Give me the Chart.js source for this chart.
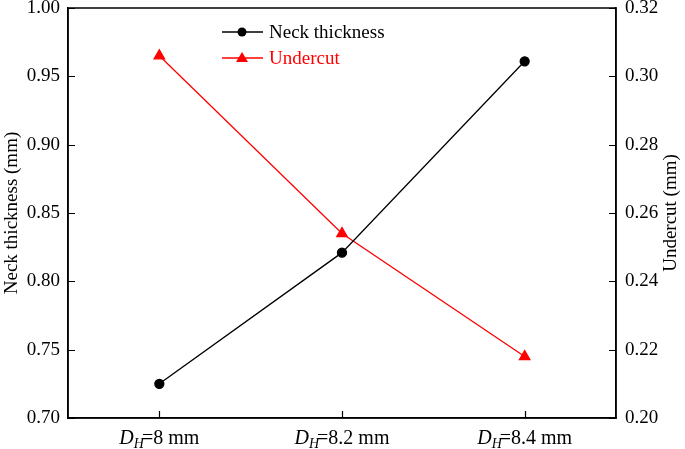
<!DOCTYPE html>
<html>
<head>
<meta charset="utf-8">
<script src="https://cdn.jsdelivr.net/npm/chart.js@4/dist/chart.umd.min.js"></script>
<style>
  html, body { margin: 0; padding: 0; background: #fff; }
  #wrap { width: 685px; height: 449px; }
</style>
</head>
<body>
<div id="wrap"><canvas id="chart" width="685" height="449"></canvas></div>
<script>
const categories = ['8', '8.2', '8.4'];
const neckThickness = [0.725, 0.821, 0.961];
const undercut = [0.306, 0.254, 0.218];
const leftTicks = [0.70, 0.75, 0.80, 0.85, 0.90, 0.95, 1.00];
const rightTicks = [0.20, 0.22, 0.24, 0.26, 0.28, 0.30, 0.32];

const FONT = '"Liberation Serif", "Times New Roman", serif';

// frame, inward tick marks, D_H labels, axis titles and the legend
const extras = {
    id: 'extras',
    afterDraw(chart) {
        const ctx = chart.ctx;
        const area = chart.chartArea;
        const x = chart.scales.x, y = chart.scales.y, y1 = chart.scales.y1;
        ctx.save();
        ctx.strokeStyle = '#000';
        ctx.lineWidth = 1.5;
        ctx.strokeRect(area.left, area.top, area.right - area.left, area.bottom - area.top);

        ctx.lineWidth = 1.2;
        ctx.beginPath();
        leftTicks.forEach(v => {
            const py = Math.round(y.getPixelForValue(v)) + 0.5;
            ctx.moveTo(area.left, py); ctx.lineTo(area.left + 7, py);
        });
        rightTicks.forEach(v => {
            const py = Math.round(y1.getPixelForValue(v)) + 0.5;
            ctx.moveTo(area.right, py); ctx.lineTo(area.right - 7, py);
        });
        categories.forEach((c, i) => {
            const px = Math.round(x.getPixelForValue(i)) + 0.5;
            ctx.moveTo(px, area.bottom); ctx.lineTo(px, area.bottom - 7);
        });
        ctx.stroke();

        // x labels: italic D with italic subscript H
        ctx.fillStyle = '#000';
        ctx.textBaseline = 'alphabetic';
        ctx.textAlign = 'left';
        categories.forEach((c, i) => {
            const px = x.getPixelForValue(i);
            const base = area.bottom + 26;
            const rest = '=' + c + ' mm';
            ctx.font = 'italic 20px ' + FONT;
            const wD = ctx.measureText('D').width;
            ctx.font = 'italic 14px ' + FONT;
            const wH = ctx.measureText('H').width;
            ctx.font = '20px ' + FONT;
            const wR = ctx.measureText(rest).width;
            let sx = px - (wD + wH - 2 + wR) / 2;
            ctx.font = 'italic 20px ' + FONT;
            ctx.fillText('D', sx, base);
            sx += wD;
            ctx.font = 'italic 14px ' + FONT;
            ctx.fillText('H', sx, base + 4);
            sx += wH - 2;
            ctx.font = '20px ' + FONT;
            ctx.fillText(rest, sx, base);
        });

        // axis titles, both reading bottom to top
        const midY = (area.top + area.bottom) / 2;
        [[12, 'Neck thickness (mm)'], [671, 'Undercut (mm)']].forEach(([tx, text]) => {
            ctx.save();
            ctx.translate(tx, midY);
            ctx.rotate(-Math.PI / 2);
            ctx.font = '19px ' + FONT;
            ctx.textAlign = 'center';
            ctx.textBaseline = 'middle';
            ctx.fillText(text, 0, 0);
            ctx.restore();
        });

        // legend
        const items = [
            { text: 'Neck thickness', color: '#000', style: 'circle', y: 32 },
            { text: 'Undercut', color: '#ff0000', style: 'triangle', y: 58 }
        ];
        items.forEach(it => {
            ctx.strokeStyle = it.color;
            ctx.fillStyle = it.color;
            ctx.lineWidth = 1.3;
            ctx.beginPath();
            ctx.moveTo(222, it.y); ctx.lineTo(263, it.y);
            ctx.stroke();
            ctx.beginPath();
            if (it.style === 'circle') {
                ctx.arc(242, it.y, 4.5, 0, Math.PI * 2);
            } else {
                ctx.moveTo(242, it.y - 6);
                ctx.lineTo(248, it.y + 4);
                ctx.lineTo(236, it.y + 4);
                ctx.closePath();
            }
            ctx.fill();
            ctx.font = '19px ' + FONT;
            ctx.textAlign = 'left';
            ctx.textBaseline = 'middle';
            ctx.fillText(it.text, 269, it.y + 1);
        });
        ctx.restore();
    }
};

function fixY(width) {
    return function(scale) {
        scale.width = width;
        scale.paddingTop = 0;
        scale.paddingBottom = 0;
    };
}

new Chart(document.getElementById('chart'), {
    type: 'line',
    data: {
        labels: categories,
        datasets: [
            {
                label: 'Neck thickness',
                data: neckThickness,
                yAxisID: 'y',
                borderColor: '#000',
                backgroundColor: '#000',
                borderWidth: 1.3,
                pointStyle: 'circle',
                pointRadius: 4.5,
                pointHoverRadius: 4.5,
                tension: 0
            },
            {
                label: 'Undercut',
                data: undercut,
                yAxisID: 'y1',
                borderColor: '#ff0000',
                backgroundColor: '#ff0000',
                borderWidth: 1.3,
                pointStyle: 'triangle',
                pointRadius: 6,
                pointHoverRadius: 6,
                tension: 0
            }
        ]
    },
    options: {
        responsive: false,
        animation: false,
        layout: { padding: { top: 8, right: 0, left: 0, bottom: 0 } },
        plugins: {
            legend: { display: false },
            tooltip: { enabled: false }
        },
        scales: {
            x: {
                offset: true,
                grid: { display: false, drawTicks: false },
                border: { display: true, color: '#000', width: 1.5 },
                ticks: { display: false },
                afterFit(scale) { scale.height = 31; scale.paddingLeft = 0; scale.paddingRight = 0; }
            },
            y: {
                position: 'left',
                min: 0.70,
                max: 1.00,
                grid: { display: false, drawTicks: false },
                border: { display: true, color: '#000', width: 1.5 },
                afterBuildTicks(scale) { scale.ticks = leftTicks.map(v => ({ value: v })); },
                ticks: {
                    color: '#000',
                    font: { family: FONT, size: 19 },
                    padding: 8,
                    callback: v => v.toFixed(2)
                },
                afterFit: fixY(68)
            },
            y1: {
                position: 'right',
                min: 0.20,
                max: 0.32,
                grid: { display: false, drawTicks: false },
                border: { display: true, color: '#000', width: 1.5 },
                afterBuildTicks(scale) { scale.ticks = rightTicks.map(v => ({ value: v })); },
                ticks: {
                    color: '#000',
                    font: { family: FONT, size: 19 },
                    padding: 9,
                    callback: v => v.toFixed(2)
                },
                afterFit: fixY(69)
            }
        }
    },
    plugins: [extras]
});
</script>
</body>
</html>
